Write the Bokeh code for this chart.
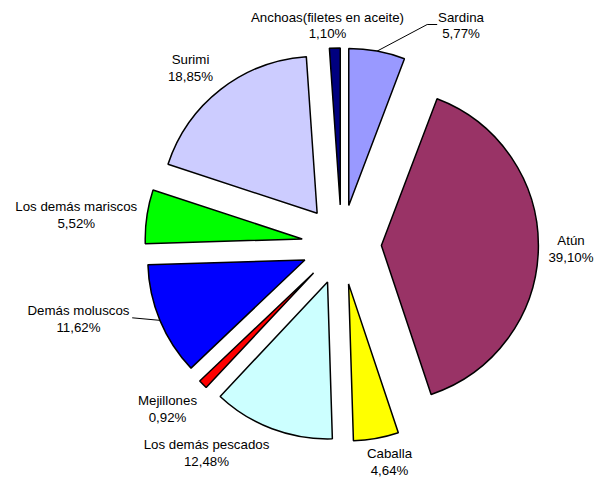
import math
from bokeh.plotting import figure
from bokeh.models import Range1d, ColumnDataSource
from bokeh.core.properties import value
from bokeh.embed import file_html
from bokeh.resources import INLINE

# ---- data ----
names = ["Sardina", "Atún", "Caballa", "Los demás pescados", "Mejillones",
         "Demás moluscos", "Los demás mariscos", "Surimi", "Anchoas(filetes en aceite)"]
pct = [5.77, 39.10, 4.64, 12.48, 0.92, 11.62, 5.52, 18.85, 1.10]
colors = ["#9999FF", "#993366", "#FFFF00", "#CCFFFF", "#FF0000",
          "#0000FF", "#00FF00", "#CCCCFF", "#000080"]

# ---- layout (screen px; y measured downward) ----
CX, CY = 341.1, 244.2      # pie centre
R = 157.0                  # radius
EXPLODE = 39.8             # explosion distance
label_xy = [(460.5, 25), (570.5, 248.5), (389, 461.5), (206, 452.5), (167, 408.3),
            (78, 318.3), (75.8, 214.3), (190, 67.2), (327, 25)]
leader_to = {0: [(426.7, 24), (436.7, 24)], 5: [(131.7, 317.3)]}
LINE_H = 16.6

p = figure(width=594, height=480, output_backend="svg", toolbar_location=None,
           x_range=Range1d(0, 594), y_range=Range1d(-480, 0),
           min_border=0, outline_line_color=None)
p.axis.visible = False
p.grid.visible = False
p.background_fill_color = "white"
p.border_fill_color = "white"

total = sum(pct)
cum = 0.0
xs, ys, a0s, a1s = [], [], [], []
for i, v in enumerate(pct):
    start = math.pi / 2 - 2 * math.pi * cum / total
    end = math.pi / 2 - 2 * math.pi * (cum + v) / total
    mid = (start + end) / 2
    cx = CX + EXPLODE * math.cos(mid)
    cy = -CY + EXPLODE * math.sin(mid)
    xs.append(cx); ys.append(cy); a0s.append(end); a1s.append(start)
    if i in leader_to:
        sx = cx + R * math.cos(mid)
        sy = cy + R * math.sin(mid)
        lx = [sx] + [q[0] for q in leader_to[i]]
        ly = [sy] + [-q[1] for q in leader_to[i]]
        p.line(lx, ly, line_color="#000000", line_width=1)
    cum += v

src = ColumnDataSource(dict(x=xs, y=ys, a0=a0s, a1=a1s, c=colors))
p.wedge(x="x", y="y", radius=R, start_angle="a0", end_angle="a1",
        fill_color="c", line_color="black", line_width=1.5, source=src)

pct_txt = [f"{v:.2f}".replace(".", ",") + "%" for v in pct]
lsrc = ColumnDataSource(dict(
    x=[q[0] for q in label_xy],
    yn=[-(q[1] - LINE_H / 2) for q in label_xy],
    yp=[-(q[1] + LINE_H / 2) for q in label_xy],
    n=names, t=pct_txt))
for ycol, tcol in (("yn", "n"), ("yp", "t")):
    p.text(x="x", y=ycol, text=tcol, source=lsrc, text_align="center",
           text_baseline="middle", text_font=value("Liberation Sans"),
           text_font_size="13.3px", text_color="#000000")

open("out.html", "w").write(file_html(p, INLINE))
